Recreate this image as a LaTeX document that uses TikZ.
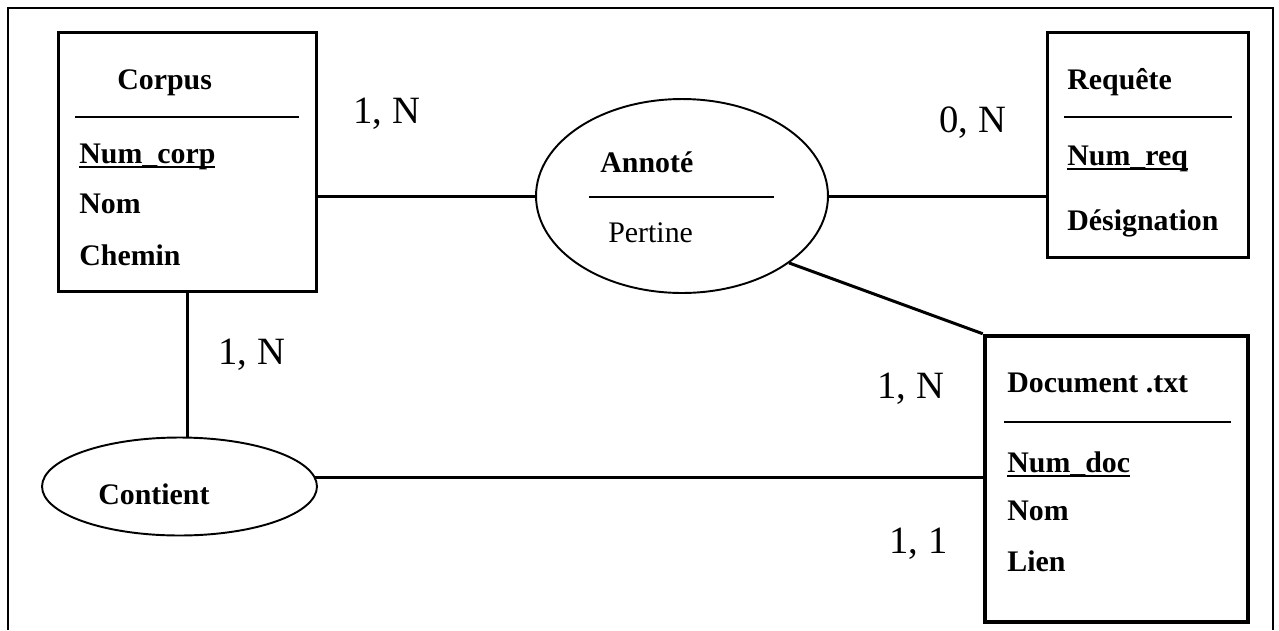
\documentclass[tikz,border=0pt]{standalone}
\usepackage{fontspec}
\setmainfont{Liberation Serif}
\usetikzlibrary{shapes.geometric}

\newcommand\souligne[1]{\setbox0\hbox{#1}\rlap{\rule[-2.8pt]{\wd0}{1.2pt}}\box0}

\tikzset{
  entite/.style={draw,line width=1.7pt,inner sep=0pt},
  relation/.style={draw,ellipse,line width=1.1pt,inner sep=0pt},
  champ/.style={anchor=base west,inner sep=0pt,font=\fontsize{17}{20}\selectfont\bfseries},
  card/.style={anchor=base west,inner sep=0pt,font=\fontsize{22}{26}\selectfont},
  lien/.style={line width=1.7pt}
}

\begin{document}
\begin{tikzpicture}[x=0.02cm,y=-0.02cm]
        \useasboundingbox (0,0) rectangle (1279,630);
        \draw[line width=0.8pt] (8,630)--(8,8)--(1273,8)--(1273,630);
        % entites
        \node[entite,minimum width=5.18cm,minimum height=5.2cm] (corpus) at (187.5,162) {};
        \node[entite,minimum width=4.04cm,minimum height=4.52cm] (requete) at (1148,145) {};
        \node[entite,line width=2.6pt,minimum width=5.26cm,minimum height=5.72cm] (document) at (1116.5,479) {};
        % associations
        \node[relation,minimum width=5.84cm,minimum height=3.88cm] (annote) at (682,196) {};
        \node[relation,minimum width=5.5cm,minimum height=1.96cm] (contient) at (179.5,486.5) {};

        \node[champ] (corpus-nom) at (117,89) {Corpus};
        \draw[line width=0.6pt] (75,117)--(299,117);
        \node[champ] (corpus-cle) at (79,163) {\souligne{Num\_corp}};
        \node[champ] (corpus-a1) at (79,213) {Nom};
        \node[champ] (corpus-a2) at (79,265) {Chemin};

        \node[champ] (requete-nom) at (1067,89) {Requête};
        \draw[line width=0.6pt] (1064,117)--(1232,117);
        \node[champ] (requete-cle) at (1067,165) {\souligne{Num\_req}};
        \node[champ] (requete-a1) at (1067,230) {Désignation};

        \node[champ] (document-nom) at (1007,392) {Document .txt};
        \draw[line width=1.1pt] (1004,422)--(1231,422);
        \node[champ] (document-cle) at (1007,472) {\souligne{Num\_doc}};
        \node[champ] (document-a1) at (1007,520) {Nom};
        \node[champ] (document-a2) at (1007,571) {Lien};

        \node[champ] (annote-nom) at (600,172) {Annoté};
        \draw[line width=1.1pt] (589,197)--(774,197);
        \node[champ,font=\fontsize{17}{20}\selectfont] (annote-a1) at (608,242) {Pertine};
        \node[champ] (contient-nom) at (98,504) {Contient};

        % liens
        \draw[lien] (annote.west)--(annote.west -| corpus.east);
        \draw[lien] (annote.east)--(annote.east -| requete.west);
        \draw[lien] (annote.-32)--(document.north west);
        \draw[lien] (corpus.south)--(corpus.south |- contient.north);
        \draw[lien] (contient.4)--(contient.4 -| document.west);

        % cardinalites
        \node[card] (c1) at (353,123) {1, N};
        \node[card] (c2) at (939,132) {0, N};
        \node[card] (c3) at (218,364) {1, N};
        \node[card] (c4) at (877,398) {1, N};
        \node[card] (c5) at (889,553) {1, 1};
\end{tikzpicture}
\end{document}
